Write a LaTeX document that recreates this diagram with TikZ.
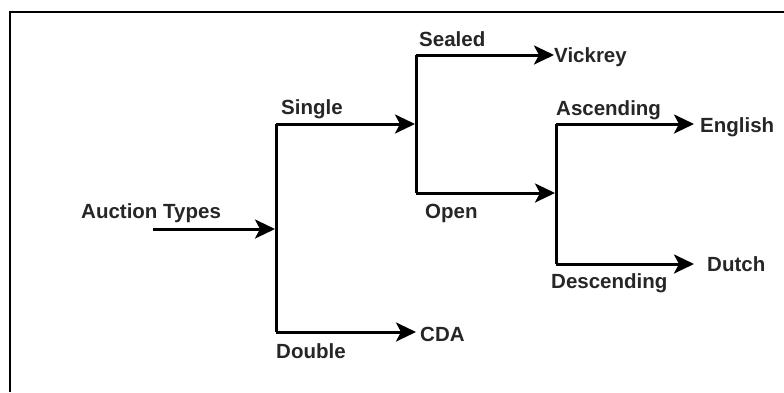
\documentclass[tikz,border=0pt]{standalone}
\usepackage{fontspec}
\setmainfont{Liberation Sans}
\usetikzlibrary{arrows.meta, positioning}

\begin{document}
\begin{tikzpicture}[x=1pt, y=-1pt,
  branch/.style={line width=3pt, -{Stealth[length=20pt, width=19pt, inset=5pt]}},
  trunk/.style={line width=3pt},
  lbl/.style={anchor=base west, inner sep=0pt, text=black!85, font=\fontsize{20.5}{24}\selectfont\bfseries}]
  \useasboundingbox (0,0) rectangle (784,392);

  % Frame (only left and top edges show)
  \draw[line width=2pt] (10,392) -- (10,12) -- (784,12);

  % Junctions of the tree
  \coordinate (root)    at (153,229);
  \coordinate (typeJ)   at (276,229);
  \coordinate (singleJ) at (276,124);
  \coordinate (doubleJ) at (276,332);
  \coordinate (formatJ) at (416,124);
  \coordinate (sealedJ) at (416,55);
  \coordinate (openJ)   at (416,193);
  \coordinate (priceJ)  at (556,193);
  \coordinate (ascJ)    at (556,124);
  \coordinate (descJ)   at (556,264);

  % Labels
  \node[lbl] (types)  at (81,218)  {Auction Types};
  \node[lbl] (single) at (281,114) {Single};
  \node[lbl] (double) at (276,358) {Double};
  \node[lbl] (cda)    at (420,341) {CDA};
  \node[lbl] (sealed) at (419,46)  {Sealed};
  \node[lbl] (open)   at (425,218) {Open};
  \node[lbl] (vickrey) at (554,62) {Vickrey};
  \node[lbl] (asc)    at (556,115) {Ascending};
  \node[lbl] (desc)   at (551,288) {Descending};
  \node[lbl] (english) at (700,132) {English};
  \node[lbl] (dutch)  at (707,271) {Dutch};

  % Vertical bars
  \draw[trunk] (singleJ) -- (doubleJ);
  \draw[trunk] (sealedJ) -- (openJ);
  \draw[trunk] (ascJ) -- (descJ);

  % Arrows
  \draw[branch] (root) -- ([xshift=-1pt]typeJ);
  \draw[branch] (singleJ) -- ([xshift=-1pt]formatJ);
  \draw[branch] (doubleJ) -- ([xshift=-4pt]doubleJ -| cda.west);
  \draw[branch] (sealedJ) -- (sealedJ -| vickrey.west);
  \draw[branch] (openJ) -- ([xshift=-1pt]priceJ);
  \draw[branch] (ascJ) -- ([xshift=-6pt]ascJ -| english.west);
  \draw[branch] (descJ) -- ([xshift=-13pt]descJ -| dutch.west);
\end{tikzpicture}
\end{document}
